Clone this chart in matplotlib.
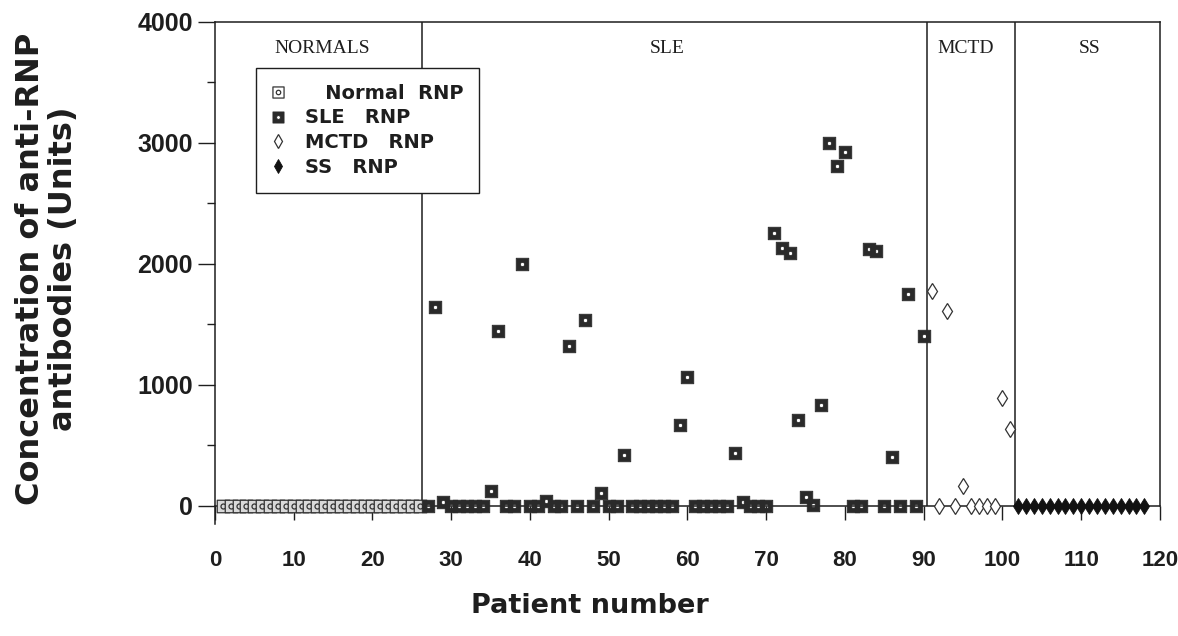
import numpy as np
import matplotlib
matplotlib.use("Agg")
import matplotlib.pyplot as plt
from matplotlib.path import Path
from matplotlib.lines import Line2D
from matplotlib.ticker import MultipleLocator

# Anti-RNP antibody concentration (Units) per patient, by diagnostic group
normal_patients = list(range(1, 27))
normal_rnp = [0, 0, 0, 0, 0, 0, 0, 0, 0, 0, 0, 0, 0,
              0, 0, 0, 0, 0, 0, 0, 0, 0, 0, 0, 0, 0]

sle_patients = list(range(27, 91))
sle_rnp = [0, 1645, 30, 0, 0, 0, 0, 0, 124, 1446,      # 27-36
           0, 0, 2000, 0, 0, 40, 0, 0, 1322, 0,         # 37-46
           1537, 0, 107, 0, 0, 421, 0, 0, 0, 0,         # 47-56
           0, 0, 669, 1066, 0, 0, 0, 0, 0, 438,         # 57-66
           30, 0, 0, 0, 2256, 2132, 2091, 711, 70, 10,  # 67-76
           835, 3000, 2810, 2926, 0, 0, 2124, 2107, 0, 405,  # 77-86
           0, 1752, 0, 1405]                            # 87-90

mctd_patients = list(range(91, 102))
mctd_rnp = [1777, 0, 1612, 0, 165, 0, 0, 0, 0, 893, 636]

ss_patients = list(range(102, 119))
ss_rnp = [0, 0, 0, 0, 0, 0, 0, 0, 0, 0, 0, 0, 0, 0, 0, 0, 0]

group_names = ["NORMALS", "SLE", "MCTD", "SS"]
legend_labels = ["   Normal  RNP", "SLE   RNP", "MCTD   RNP", "SS   RNP"]
x_ticks = [0, 10, 20, 30, 40, 50, 60, 70, 80, 90, 100, 110, 120]
y_ticks = [0, 1000, 2000, 3000, 4000]

# layout constants (data coordinates)
group_label_x = [13.6, 57.4, 95.3, 111.1]
group_label_y = 3780
group_bounds = [26.3, 90.4, 101.6]

INK = "#1e1e1e"


def polygon_circle(r, reverse=False, n=40):
    t = np.linspace(0, 2 * np.pi, n, endpoint=False)
    if reverse:
        t = t[::-1]
    v = np.column_stack([r * np.cos(t), r * np.sin(t)])
    v = np.vstack([v, v[:1]])
    codes = [Path.MOVETO] + [Path.LINETO] * (n - 1) + [Path.CLOSEPOLY]
    return Path(v, codes)


square = Path([(-0.5, -0.5), (0.5, -0.5), (0.5, 0.5), (-0.5, 0.5), (-0.5, -0.5)],
              [Path.MOVETO, Path.LINETO, Path.LINETO, Path.LINETO, Path.CLOSEPOLY])
# open square with a small ring inside
ring_square = Path.make_compound_path(square, polygon_circle(0.2))
# solid square with a small hole in the middle
holed_square = Path.make_compound_path(square, polygon_circle(0.17, reverse=True))

fig = plt.figure(figsize=(11.78, 6.36), dpi=100)
ax = fig.add_axes([0.18251, 0.17610, 0.80221, 0.78931])

ax.set_xlim(0, 120)
ax.set_ylim(-150, 4000)

# group separators
ax.vlines(group_bounds, 0, 4000, color=INK, lw=1.1, zorder=1)

ms_sq = 9.0
ax.plot(normal_patients, normal_rnp, ls="none", marker=ring_square, ms=ms_sq,
        mfc="#d9d9d9", mec="#333333", mew=0.9, zorder=3)
ax.plot(sle_patients, sle_rnp, ls="none", marker=holed_square, ms=ms_sq,
        mfc="#2a2a2a", mec="#2a2a2a", mew=0.6, zorder=3)
ax.plot(mctd_patients, mctd_rnp, ls="none", marker="d", ms=8.5,
        mfc="white", mec="#333333", mew=0.9, zorder=3)
ax.plot(ss_patients, ss_rnp, ls="none", marker="d", ms=8.5,
        mfc="#111111", mec="#111111", mew=0.6, zorder=3)

for name, gx in zip(group_names, group_label_x):
    ax.text(gx, group_label_y, name, ha="center", va="center",
            family="Liberation Serif", fontsize=14, color=INK)

# axes frame
for s in ["left", "top", "right", "bottom"]:
    ax.spines[s].set_color(INK)
    ax.spines[s].set_linewidth(1.1)
ax.spines["bottom"].set_position(("data", 0))
ax.spines["right"].set_bounds(0, 4000)

ax.set_xticks(x_ticks)
ax.set_xticklabels([str(v) for v in x_ticks])
ax.set_yticks(y_ticks)
ax.set_yticklabels([str(v) for v in y_ticks])
ax.yaxis.set_minor_locator(MultipleLocator(500))

ax.tick_params(axis="x", direction="out", length=10, width=1, color=INK, pad=22)
ax.tick_params(axis="y", which="major", direction="out", length=12, width=1,
               color=INK, pad=4)
ax.tick_params(axis="y", which="minor", direction="out", length=6, width=1,
               color=INK)
for lab in ax.get_xticklabels():
    lab.set_family(["Liberation Sans Narrow", "Liberation Sans"])
    lab.set_fontweight("bold")
    lab.set_fontsize(16)
    lab.set_color(INK)
for lab in ax.get_yticklabels():
    lab.set_family("Liberation Sans")
    lab.set_fontweight("bold")
    lab.set_fontsize(18)
    lab.set_color(INK)

fig.text(590 / 1178, 1 - 606 / 636, "Patient number", ha="center", va="center",
         family="DejaVu Sans", fontweight="bold", fontsize=19.5, color=INK)
fig.text(47 / 1178, 1 - 269 / 636, "Concentration of anti-RNP\nantibodies (Units)",
         rotation=90, ha="center", va="center", family="DejaVu Sans",
         fontweight="bold", fontsize=23, color=INK, linespacing=1.05)

handles = [
    Line2D([], [], ls="none", marker=ring_square, ms=8, mfc="white", mec="#333333", mew=0.9),
    Line2D([], [], ls="none", marker=holed_square, ms=8, mfc="#2a2a2a", mec="#2a2a2a", mew=0.6),
    Line2D([], [], ls="none", marker="d", ms=7.5, mfc="white", mec="#333333", mew=0.9),
    Line2D([], [], ls="none", marker="d", ms=7.5, mfc="#111111", mec="#111111", mew=0.6),
]
leg = ax.legend(handles, legend_labels, loc="upper left",
                bbox_to_anchor=((256 - 215) / 945, (524 - 68) / 502),
                borderaxespad=0, frameon=True, fancybox=False, shadow=False,
                edgecolor=INK, framealpha=1, handlelength=0.7, handletextpad=1.0,
                labelspacing=0.3, borderpad=0.8,
                prop={"family": "DejaVu Sans", "weight": "bold", "size": 14})
leg.get_frame().set_linewidth(1.0)
for t in leg.get_texts():
    t.set_color(INK)

fig.savefig("out.png", dpi=100)
